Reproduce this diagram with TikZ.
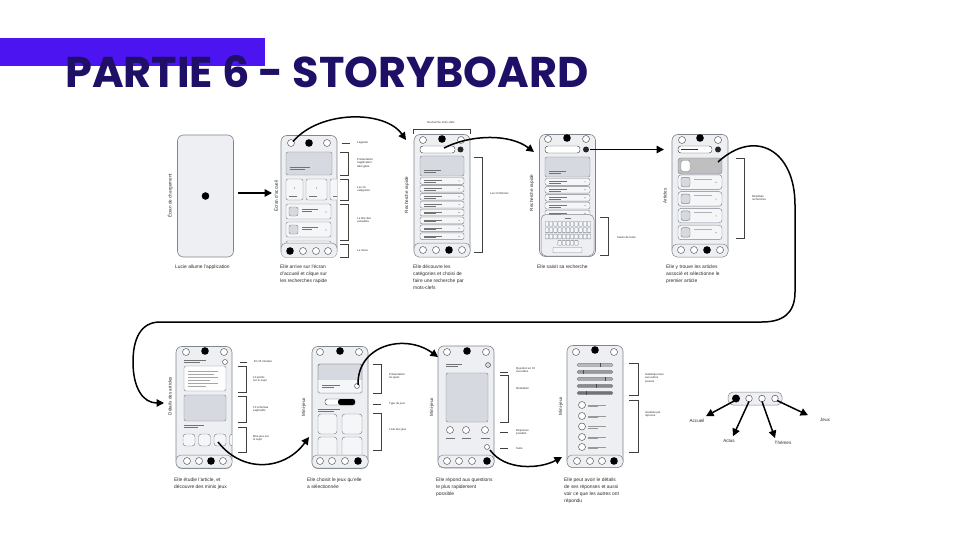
\documentclass[tikz,border=0pt]{standalone}
\usepackage{fontspec}
\setmainfont{Liberation Sans}
\newfontfamily\titlefont{Poppins}
\usetikzlibrary{arrows.meta}
\definecolor{titlecol}{HTML}{1F0F66}
\definecolor{bandcol}{HTML}{4B14F0}
\definecolor{phonefill}{HTML}{EDEFF2}
\definecolor{phoneline}{HTML}{80858D}
\definecolor{cardgray}{HTML}{D6DAE0}
\definecolor{elemfill}{HTML}{F5F6F8}
\definecolor{txtcol}{HTML}{2B2B2B}
\newcommand{\phc}[3][3.5]{\draw[hol] (#2,#3) circle (#1);}
\newcommand{\pfc}[3][3.8]{\fill[black] (#2,#3) circle (#1);}
\newcommand{\pbrk}[4]{\draw[brk] (#1,#3) -- (#2,#3) -- (#2,#4) -- (#1,#4);}
\newcommand{\pdsh}[3]{\draw[brk] (#1,#3) -- (#2,#3);}
\tikzset{
 phone/.style={draw=phoneline, fill=phonefill, line width=0.6pt, rounded corners=6pt, minimum width=56pt, minimum height=122pt, inner sep=0pt},
 elem/.style={draw=phoneline, fill=elemfill, line width=0.45pt, rounded corners=2pt},
 card/.style={draw=phoneline, fill=cardgray, line width=0.45pt, rounded corners=2pt},
 navb/.style={draw=phoneline, fill=phonefill, line width=0.5pt, rounded corners=5pt},
 hol/.style={draw=black!70, fill=white, line width=0.45pt},
 tline/.style={draw=black!55, line width=0.45pt},
 brk/.style={draw=black!75, line width=0.5pt},
 arr/.style={line width=1.5pt, -{Triangle[length=7.5pt,width=7.5pt]}},
 note/.style={anchor=west, font=\fontsize{2.8}{3.3}\selectfont, text=txtcol, align=left, inner sep=0pt},
 captxt/.style={anchor=north west, font=\fontsize{4.9}{7}\selectfont, text=txtcol, align=left, inner sep=0pt},
 vlab/.style={rotate=90, font=\fontsize{4.6}{5}\selectfont, text=txtcol, inner sep=0pt},
}
\begin{document}
\begin{tikzpicture}[x=1pt,y=-1pt]
\useasboundingbox (0,0) rectangle (960,540);
\fill[white] (0,0) rectangle (960,540);
% title
\fill[bandcol] (0,38) rectangle (265,66);
\node[anchor=base west, inner sep=0pt, text=titlecol, font=\titlefont\bfseries\fontsize{43}{43}\selectfont] (title) at (65,88) {PARTIE 6 - STORYBOARD};

% ================= TOP ROW =================
% --- screen 1
\node[phone] (s1) at (205.5,196) {};
\pfc{205.5}{196}
\node[vlab] (v1) at (170,196) {Écran de chargement};
\node[captxt] (c1) at (175,265) {Lucie allume l'application};

% --- screen 2
\node[phone] (s2) at (309,196.5) {};
\begin{scope}
\clip[rounded corners=6pt] (281,135.5) rectangle (337,257.5);
\phc{291}{143}\pfc{309}{143}\phc{327}{143}
\draw[card] (286,152) rectangle (332,175);
\draw[tline] (290,167) -- (310,167) (290,169.5) -- (305,169.5);
\foreach \xa/\xb in {286/303,306/327,330/351}{
  \draw[elem] (\xa,179) rectangle (\xb,200);
  \draw[tline] (\xa+3,196) -- (\xa+11,196);
  \fill[black!50] ({(\xa+\xb)/2},188) circle (0.6);
}
\foreach \ya in {204,222,241}{
  \draw[elem] (286,\ya) rectangle (331,\ya+15);
  \draw[card] (289,\ya+3) rectangle (298,\ya+12);
  \draw[tline] (302,\ya+5) -- (318,\ya+5) (302,\ya+7) -- (312,\ya+7);
  \fill[black!50] (326,\ya+8) circle (0.6);
}
\draw[navb] (281,243) rectangle (337,258);
\pfc{290}{251}\phc{303}{251}\phc{316}{251}\phc{328}{251}
\end{scope}
\node[vlab] (v2) at (276,196) {Écran d'accueil};
\pdsh{342}{350}{143}\node[note] (n21) at (357,143) {Légende};
\pbrk{340}{348}{152}{175}\node[note] (n22) at (357,163) {Présentation\\l'application\\décryptée};
\pbrk{340}{348}{179}{200}\node[note] (n23) at (357,189) {Les 10\\catégories};
\pbrk{340}{348}{204}{240}\node[note] (n24) at (357,220) {Le titre des\\actualités};
\pbrk{340}{348}{244}{257}\node[note] (n25) at (357,251) {Le menu};
\node[captxt] (c2) at (280,265) {Elle arrive sur l'écran\\d'accueil et clique sur\\les recherches rapide};

% --- screen 3
\node[phone] (s3) at (442,195.5) {};
\phc{423}{140}\pfc{442}{139}\phc{461}{140}
\draw[hol, rounded corners=3pt] (420,146) rectangle (455,153);
\fill[black!85] (460.5,149.5) circle (3);
\draw[card] (420,156) rectangle (464,176);
\draw[tline] (424,170) -- (441,170) (424,172) -- (436,172);
\foreach \i in {0,...,7}{
  \pgfmathsetmacro\yy{177.5+\i*7.9}
  \draw[elem] (420,\yy) rectangle (464,\yy+6.8);
  \draw[tline] (424,\yy+3) -- (442,\yy+3) (424,\yy+4.6) -- (436,\yy+4.6);
  \fill[black!50] (459,\yy+3.4) circle (0.6);
}
\draw[navb] (414,243) rectangle (470,257);
\phc{423}{250}\phc{436}{250}\pfc{449}{250}\phc{462}{250}
\node[vlab] (v3) at (407,195) {Recherche rapide};
\node[note, anchor=center] (n31) at (441,123) {Recherche mots-clefs};
\draw[brk] (413,134) -- (413,129) -- (470,129) -- (470,134);
\pbrk{474}{482}{157}{252}\node[note] (n32) at (490,193) {Les 10 thèmes};
\node[captxt] (c3) at (413,265) {Elle découvre les\\catégories et choisi de\\faire une recherche par\\mots-clefs};

% --- screen 4
\node[phone] (s4) at (567.5,195.5) {};
\phc{548}{139}\pfc{567}{138}\phc{586}{139}
\draw[hol, rounded corners=3pt] (545,146) rectangle (580,153);
\fill[black!85] (586,149.5) circle (3);
\draw[card] (545,157) rectangle (590,177);
\draw[tline] (549,171) -- (566,171) (549,173) -- (561,173);
\foreach \i in {0,...,4}{
  \pgfmathsetmacro\yy{178.5+\i*7.9}
  \draw[elem] (545,\yy) rectangle (590,\yy+6.8);
  \draw[tline] (549,\yy+3) -- (567,\yy+3) (549,\yy+4.6) -- (561,\yy+4.6);
  \fill[black!50] (585,\yy+3.4) circle (0.6);
}
\draw[navb] (541,214.5) rectangle (594,256);
\draw[tline] (564.5,218.5) -- (570.5,218.5);
\foreach \r in {0,1,2}{\foreach \c in {0,...,10}{
  \draw[elem, rounded corners=0.5pt, line width=0.35pt] (545.3+\c*4.2,221.5+\r*6.3) rectangle ++(3.4,4.8);}}
\foreach \c in {0,...,4}{\draw[elem, rounded corners=0.5pt, line width=0.35pt] (557.9+\c*4.2,240.4) rectangle ++(3.4,4.8);}
\draw[elem, rounded corners=0.5pt, line width=0.35pt] (553,247.5) rectangle (582,252.8);
\node[vlab] (v4) at (532,193) {Recherche rapide};
\pbrk{600}{608}{217}{255}\node[note] (n41) at (617,237) {Saisie de texte};
\node[captxt] (c4) at (537,265) {Elle saisit sa recherche};

% --- screen 5
\node[phone] (s5) at (700,195.5) {};
\phc{682}{140}\pfc{700}{138}\phc{718}{140}
\draw[hol, rounded corners=3pt] (678,146) rectangle (712,153);
\draw[black!80, line width=0.8pt] (681,149.5) -- (698,149.5);
\fill[black!85] (718,149.5) circle (3);
\draw[draw=phoneline, fill=black!25, line width=0.45pt, rounded corners=3pt] (678,158) rectangle (722,174);
\draw[hol, draw=phoneline, rounded corners=2pt] (681,160.5) rectangle (690,171.5);
\foreach \i in {1,...,4}{
  \pgfmathsetmacro\yy{158+\i*16.8}
  \draw[elem, rounded corners=3pt] (678,\yy) rectangle (722,\yy+14.5);
  \draw[card] (681,\yy+2.5) rectangle (690,\yy+12);
  \draw[tline, black!30] (694,\yy+4) -- (712,\yy+4);
  \fill[black!50] (716,\yy+7.5) circle (0.6);
}
\draw[navb] (672,244) rectangle (728,257);
\phc{681}{250}\phc{694}{250}\pfc{707}{250}\phc{720}{250}
\node[vlab] (v5) at (665,196) {Articles};
\pbrk{736}{744}{158}{238}\node[note] (n51) at (752,198) {Résultats\\recherches};
\node[captxt] (c5) at (666,265) {Elle y trouve les articles\\associé et sélectionne le\\premier article};

% ================= BOTTOM ROW =================
% --- screen B1
\node[phone] (b1) at (204,407.5) {};
\begin{scope}
\clip[rounded corners=6pt] (176,346.5) rectangle (232,468.5);
\phc{186}{352}\pfc{205}{351}\phc{224}{352}
\draw[tline] (184,360) -- (206,360) (184,362.5) -- (200,362.5);
\phc[2.5]{225}{362}
\draw[elem, fill=white!90!phonefill] (184,366) rectangle (226,391);
\foreach \yy/\xe in {371/218,374/214,377/218,380/210,383/218,386/206}{\draw[tline, black!35] (188,\yy) -- (\xe,\yy);}
\draw[card] (184,395) rectangle (226,421);
\draw[tline] (184,425) -- (204,425) (184,427.5) -- (198,427.5);
\foreach \xa in {183,198.5,214,229.5}{\draw[elem, rounded corners=3pt] (\xa,434) rectangle (\xa+12,446);}
\draw[navb] (176,455) rectangle (232,468);
\phc{187}{461}\phc{199}{461}\pfc{211}{461}\phc{223}{461}
\end{scope}
\node[vlab] (v6) at (170,396) {Détails des articles};
\pdsh{240}{247}{362}\node[note] (n61) at (254,361) {En 15 minutes};
\pbrk{238}{246}{366}{392}\node[note] (n62) at (253,379) {10 points\\sur le sujet};
\pbrk{238}{246}{396}{422}\node[note] (n63) at (253,409) {10 schémas\\explicatifs};
\pbrk{238}{246}{427}{452}\node[note] (n64) at (253,438) {Mini-jeux sur\\le sujet};
\node[captxt] (c6) at (174,478) {Elle étudie l'article, et\\découvre des minis jeux};

% --- screen B2
\node[phone] (b2) at (340,407.5) {};
\phc{320}{352}\pfc{340}{351}\phc{359}{352}
\draw[card] (318,364) rectangle (362,393);
\fill[elemfill] (318.3,380) rectangle (361.7,392.5);
\draw[draw=phoneline, line width=0.45pt, rounded corners=2pt] (318,364) rectangle (362,393);
\draw[tline] (322,385) -- (340,385) (322,387.5) -- (334,387.5);
\phc[2.5]{357}{386}
\draw[hol, draw=black!70, rounded corners=2.5pt] (325,399) rectangle (355,405);
\fill[black, rounded corners=2.5pt] (338,399) rectangle (355,405);
\draw[tline] (318,409) -- (340,409) (318,411.5) -- (334,411.5);
\draw[elem, rounded corners=3pt] (318,414) rectangle (337,434);
\draw[elem, rounded corners=3pt] (342,414) rectangle (362,434);
\draw[elem, rounded corners=3pt] (318,437) rectangle (337,460);
\draw[elem, rounded corners=3pt] (342,437) rectangle (362,460);
\draw[navb] (312,455) rectangle (368,468);
\phc{320}{461}\phc{332}{461}\phc{345}{461}\pfc{358}{461}
\node[vlab] (v7) at (304,407) {Mini-jeux};
\pbrk{373}{381}{364}{393}\node[note] (n71) at (389,376) {Présentation\\du quizz};
\pdsh{373}{381}{404}\node[note] (n72) at (389,404) {Type de jeux};
\pbrk{373}{381}{413}{450}\node[note] (n73) at (389,430) {Liste des jeux};
\node[captxt] (c7) at (307,478) {Elle choisit le jeux qu'elle\\a sélectionnée};

% --- screen B3
\node[phone] (b3) at (466,407) {};
\phc{447}{352}\pfc{467}{351}\phc{486}{352}
\draw[tline] (446,364) -- (462,364) (446,366.5) -- (458,366.5);
\draw[hol, fill=black!15] (488,365) circle (2.5);
\draw[card] (446,373) rectangle (488,422);
\foreach \xx in {450,466,485}{\phc{\xx}{430}\draw[tline] (\xx-4.5,438) -- (\xx+4.5,438);}
\phc[2.5]{487}{447}
\draw[navb] (438,455) rectangle (494,467.5);
\phc{447}{461}\phc{459}{461}\phc{472}{461}\pfc{487}{461}
\node[vlab] (v8) at (432,407) {Mini-jeux};
\pdsh{500}{508}{372}\node[note] (n81) at (516,370) {Question en 15\\secondes};
\pbrk{500}{508}{375}{422}\node[note] (n82) at (516,388) {Illustration};
\pdsh{500}{508}{432}\node[note] (n83) at (516,432) {Réponses\\possible};
\pdsh{500}{508}{448}\node[note] (n84) at (516,448) {Suite};
\node[captxt] (c8) at (436,478) {Elle répond aux questions\\le plus rapidement\\possible};

% --- screen B4
\node[phone] (b4) at (595,406.5) {};
\phc{576}{352}\pfc{595}{350}\phc{614}{352}
\foreach \yy/\sh/\mk in {365/28/600,372/40/583,379/34/605,386/46/596,393/55/586}{
  \draw[draw=phoneline, fill=black!\sh, line width=0.4pt, rounded corners=1.5pt] (577,\yy-1.7) rectangle (613,\yy+1.7);
  \draw[black!70, line width=0.4pt] (\mk,\yy-1.7) -- (\mk,\yy+1.7);
}
\foreach \yy in {405,416,426.5,437,447}{
  \phc{582}{\yy}
  \draw[tline, black!40] (588,\yy) -- (606,\yy) (588,\yy+1.6) -- (598,\yy+1.6);
}
\draw[navb] (567,455) rectangle (623,467.5);
\phc{577}{461}\phc{590}{461}\phc{602}{461}\pfc{614}{461}
\node[vlab] (v9) at (561,406) {Mini-jeux};
\pbrk{629}{638}{363}{395}\node[note] (n91) at (645,378) {statistique face\\aux autres\\joueurs};
\pbrk{629}{638}{400}{452}\node[note] (n92) at (645,414) {résultats par\\réponse};
\node[captxt] (c9) at (564,478) {Elle peut avoir le détails\\de ses réponses et aussi\\voir ce que les autres ont\\répondu};

% --- menu bar legend
\node[draw=phoneline, fill=phonefill, line width=0.5pt, rounded corners=5pt, minimum width=54pt, minimum height=13pt, inner sep=0pt] (menu) at (755,398.5) {};
\coordinate (m1) at (736,398.5);\coordinate (m2) at (749,398.5);
\coordinate (m3) at (762,398.5);\coordinate (m4) at (775,398.5);
\fill[black] (m1) circle (4);
\draw[hol] (m2) circle (3.3);\draw[hol] (m3) circle (3.3);\draw[hol] (m4) circle (3.3);
\node[note, anchor=center, font=\fontsize{4.6}{5}\selectfont] (l1) at (697,421) {Accueil};
\node[note, anchor=center, font=\fontsize{4.6}{5}\selectfont] (l2) at (729,441) {Actus};
\node[note, anchor=center, font=\fontsize{4.6}{5}\selectfont] (l3) at (783,443) {Thèmes};
\node[note, anchor=center, font=\fontsize{4.6}{5}\selectfont] (l4) at (825,420) {Jeux};
\draw[arr] ([shift={(-1,2)}]m1) -- ([shift={(9,-3)}]l1.north);
\draw[arr] ([shift={(0,3)}]m2) -- ([shift={(4,-3)}]l2.north);
\draw[arr] ([shift={(0,3)}]m3) -- ([shift={(-8,-3)}]l3.north);
\draw[arr] ([shift={(2,2)}]m4) -- ([shift={(-17,-3)}]l4.north);

% ================= CONNECTORS =================
\coordinate (p1) at (238,193);\coordinate (p2) at (272,193);
\draw[arr] (p1) -- (p2);
\coordinate (p3) at (293,141.5);\coordinate (p4) at (406,140);
\draw[arr] (p3) .. controls (320,110) and (385,110) .. (p4);
\coordinate (p5) at (444,148);\coordinate (p6) at (534,152);
\draw[arr] (p5) .. controls (472,134) and (510,134) .. (p6);
\coordinate (p7) at (590,149.5);\coordinate (p8) at (664,149.5);
\draw[arr] (p7) -- (p8);
\coordinate (p9) at (718,162);\coordinate (p10) at (164,403);
\draw[arr] (p9) .. controls (755,128) and (795,150) .. (795,205) -- (795,292) .. controls (795,314) and (782,322) .. (762,322) -- (160,322) .. controls (140,322) and (133,340) .. (133,362) .. controls (133,388) and (143,403) .. (p10);
\coordinate (p11) at (218,442);\coordinate (p12) at (309,437);
\draw[arr] (p11) .. controls (243,474) and (285,470) .. (p12);
\coordinate (p13) at (358,385);\coordinate (p14) at (438,357);
\draw[arr] (p13) .. controls (357,345) and (405,333) .. (p14);
\coordinate (p15) at (490,450);\coordinate (p16) at (562,457);
\draw[arr] (p15) .. controls (505,471) and (540,469) .. (p16);
\end{tikzpicture}
\end{document}
